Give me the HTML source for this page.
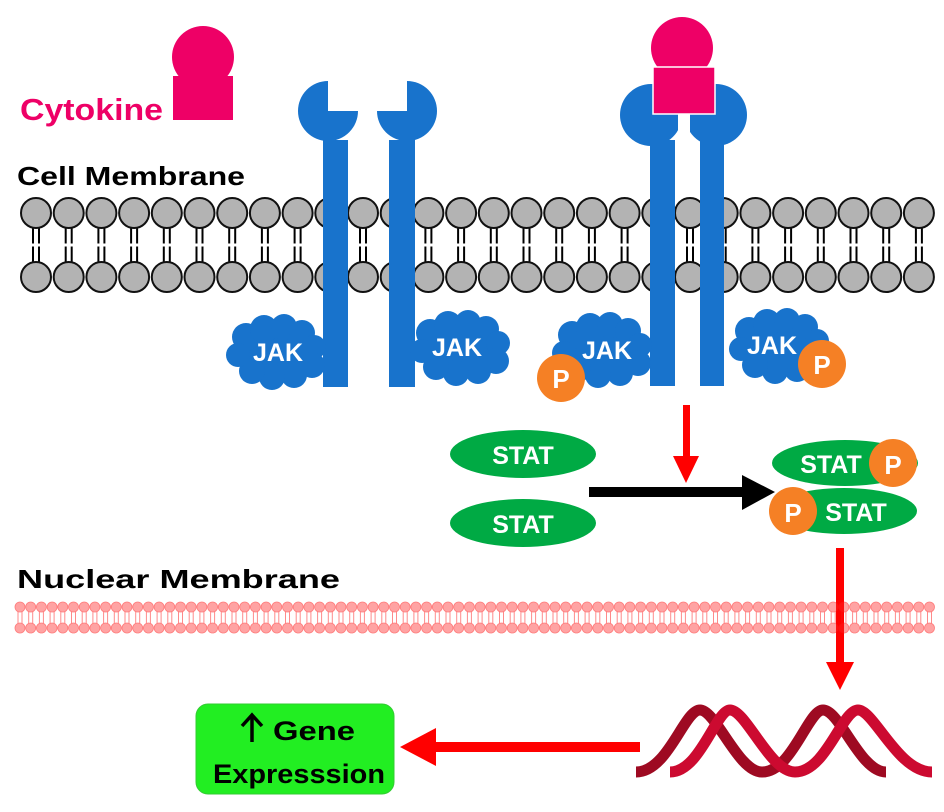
<!DOCTYPE html>
<html><head><meta charset="utf-8"><style>
html,body{margin:0;padding:0;background:#fff;}
svg{display:block;}
text{font-family:"Liberation Sans",sans-serif;font-weight:bold;}
</style></head><body>
<svg width="944" height="812" viewBox="0 0 944 812" xmlns="http://www.w3.org/2000/svg">
<defs>
<g id="lipid">
 <line x1="-3" y1="228" x2="-3" y2="262" stroke="#000" stroke-width="2"/>
 <line x1="3" y1="228" x2="3" y2="262" stroke="#000" stroke-width="2"/>
 <line x1="-6" y1="245" x2="6" y2="245" stroke="#fff" stroke-width="3"/>
 <circle cx="0" cy="213" r="15" fill="#b3b3b3" stroke="#111" stroke-width="2"/>
 <circle cx="0" cy="277" r="15" fill="#b3b3b3" stroke="#111" stroke-width="2"/>
</g>
<g id="nl">
 <line x1="-2" y1="607" x2="-2" y2="628" stroke="#ff8a8a" stroke-width="1"/>
 <line x1="2" y1="607" x2="2" y2="628" stroke="#ff8a8a" stroke-width="1"/>
 <circle cx="0" cy="607" r="5" fill="#ffa3a3" stroke="#ff7b7b" stroke-width="0.8"/>
 <circle cx="0" cy="628" r="5" fill="#ffa3a3" stroke="#ff7b7b" stroke-width="0.8"/>
</g>
<g id="cloud" fill="#1873cc">
 <ellipse cx="0" cy="0" rx="40" ry="27"/>
 <circle cx="-30" cy="-14" r="14"/><circle cx="-12" cy="-22" r="14"/><circle cx="8" cy="-24" r="13"/>
 <circle cx="26" cy="-18" r="13"/><circle cx="38" cy="-4" r="12"/><circle cx="36" cy="14" r="13"/>
 <circle cx="18" cy="24" r="13"/><circle cx="-4" cy="26" r="13"/><circle cx="-24" cy="20" r="13"/>
 <circle cx="-38" cy="4" r="12"/>
</g>
</defs>

<!-- Cytokine left -->
<text x="20" y="120" font-size="31" fill="#ee0066" textLength="143" lengthAdjust="spacingAndGlyphs">Cytokine</text>
<circle cx="203" cy="57" r="31" fill="#ee0066"/>
<rect x="173" y="76" width="60" height="44" fill="#ee0066"/>

<text x="17" y="185" font-size="26" fill="#000" textLength="228" lengthAdjust="spacingAndGlyphs">Cell Membrane</text>

<!-- membrane -->
<g>
 <use href="#lipid" x="36"/><use href="#lipid" x="68.7"/><use href="#lipid" x="101.4"/><use href="#lipid" x="134.1"/>
 <use href="#lipid" x="166.8"/><use href="#lipid" x="199.5"/><use href="#lipid" x="232.2"/><use href="#lipid" x="264.9"/>
 <use href="#lipid" x="297.6"/><use href="#lipid" x="330.3"/><use href="#lipid" x="363"/><use href="#lipid" x="395.7"/>
 <use href="#lipid" x="428.4"/><use href="#lipid" x="461.1"/><use href="#lipid" x="493.8"/><use href="#lipid" x="526.5"/>
 <use href="#lipid" x="559.2"/><use href="#lipid" x="591.9"/><use href="#lipid" x="624.6"/><use href="#lipid" x="657.3"/>
 <use href="#lipid" x="690"/><use href="#lipid" x="722.7"/><use href="#lipid" x="755.4"/><use href="#lipid" x="788.1"/>
 <use href="#lipid" x="820.8"/><use href="#lipid" x="853.5"/><use href="#lipid" x="886.2"/><use href="#lipid" x="918.9"/>
</g>

<!-- receptors left -->
<path d="M328,111 L358,111 A30,30 0 1 1 328,81 Z" fill="#1873cc"/>
<rect x="323" y="140" width="25" height="247" fill="#1873cc"/>
<path d="M407,111 L377,111 A30,30 0 1 0 407,81 Z" fill="#1873cc"/>
<rect x="389" y="140" width="26" height="247" fill="#1873cc"/>

<!-- receptors right -->
<circle cx="651" cy="115" r="31" fill="#1873cc"/>
<circle cx="716" cy="115" r="31" fill="#1873cc"/>
<rect x="678" y="110" width="12" height="40" fill="#fff"/>
<rect x="650" y="140" width="25" height="246" fill="#1873cc"/>
<rect x="700" y="140" width="24" height="246" fill="#1873cc"/>
<circle cx="682" cy="48" r="31" fill="#ee0066"/>
<rect x="653" y="67" width="62" height="47" fill="#ee0066" stroke="#fff" stroke-width="1.5"/>

<!-- JAKs -->
<use href="#cloud" x="276" y="351"/>
<use href="#cloud" x="460" y="347"/>
<use href="#cloud" x="602" y="349"/>
<use href="#cloud" x="779" y="345"/>
<text x="278" y="361" font-size="25" fill="#fff" text-anchor="middle">JAK</text>
<text x="457" y="356" font-size="25" fill="#fff" text-anchor="middle">JAK</text>
<text x="607" y="359" font-size="25" fill="#fff" text-anchor="middle">JAK</text>
<text x="772" y="354" font-size="25" fill="#fff" text-anchor="middle">JAK</text>
<circle cx="561" cy="378" r="24" fill="#f58025"/>
<text x="561" y="388" font-size="26" fill="#fff" text-anchor="middle">P</text>
<circle cx="822" cy="364" r="24" fill="#f58025"/>
<text x="822" y="374" font-size="26" fill="#fff" text-anchor="middle">P</text>

<!-- STATs -->
<ellipse cx="523" cy="454" rx="73" ry="24" fill="#00aa44"/>
<text x="523" y="464" font-size="25" fill="#fff" text-anchor="middle">STAT</text>
<ellipse cx="523" cy="523" rx="73" ry="24" fill="#00aa44"/>
<text x="523" y="533" font-size="25" fill="#fff" text-anchor="middle">STAT</text>

<!-- red arrow 1 -->
<rect x="683" y="405" width="7" height="52" fill="#f00"/>
<polygon points="673,456 699,456 686,483" fill="#f00"/>
<!-- black arrow -->
<rect x="589" y="487" width="156" height="10" fill="#000"/>
<polygon points="742,475 775,492 742,510" fill="#000"/>

<!-- dimer -->
<ellipse cx="845" cy="463" rx="73" ry="23" fill="#00aa44"/>
<text x="831" y="473" font-size="25" fill="#fff" text-anchor="middle" font-weight="normal">STAT</text>
<circle cx="893" cy="463" r="24" fill="#f58025"/>
<text x="893" y="474" font-size="26" fill="#fff" text-anchor="middle" font-weight="normal">P</text>
<ellipse cx="844" cy="511" rx="73" ry="23" fill="#00aa44"/>
<circle cx="793" cy="511" r="24" fill="#f58025"/>
<text x="793" y="522" font-size="26" fill="#fff" text-anchor="middle" font-weight="normal">P</text>
<text x="856" y="521" font-size="25" fill="#fff" text-anchor="middle" font-weight="normal">STAT</text>

<!-- red arrow 2 -->
<rect x="836" y="548" width="8" height="115" fill="#f00"/>
<polygon points="826,662 854,662 840,690" fill="#f00"/>

<!-- nuclear membrane -->
<text x="17" y="588" font-size="26" fill="#000" textLength="323" lengthAdjust="spacingAndGlyphs">Nuclear Membrane</text>
<g>
<use href="#nl" x="20"/><use href="#nl" x="30.7"/><use href="#nl" x="41.4"/><use href="#nl" x="52.1"/><use href="#nl" x="62.8"/><use href="#nl" x="73.5"/><use href="#nl" x="84.2"/><use href="#nl" x="94.9"/><use href="#nl" x="105.6"/><use href="#nl" x="116.3"/><use href="#nl" x="127"/><use href="#nl" x="137.7"/><use href="#nl" x="148.4"/><use href="#nl" x="159.1"/><use href="#nl" x="169.8"/><use href="#nl" x="180.5"/><use href="#nl" x="191.2"/><use href="#nl" x="201.9"/><use href="#nl" x="212.6"/><use href="#nl" x="223.3"/><use href="#nl" x="234"/><use href="#nl" x="244.7"/><use href="#nl" x="255.4"/><use href="#nl" x="266.1"/><use href="#nl" x="276.8"/><use href="#nl" x="287.5"/><use href="#nl" x="298.2"/><use href="#nl" x="308.9"/><use href="#nl" x="319.6"/><use href="#nl" x="330.3"/><use href="#nl" x="341"/><use href="#nl" x="351.7"/><use href="#nl" x="362.4"/><use href="#nl" x="373.1"/><use href="#nl" x="383.8"/><use href="#nl" x="394.5"/><use href="#nl" x="405.2"/><use href="#nl" x="415.9"/><use href="#nl" x="426.6"/><use href="#nl" x="437.3"/><use href="#nl" x="448"/><use href="#nl" x="458.7"/><use href="#nl" x="469.4"/><use href="#nl" x="480.1"/><use href="#nl" x="490.8"/><use href="#nl" x="501.5"/><use href="#nl" x="512.2"/><use href="#nl" x="522.9"/><use href="#nl" x="533.6"/><use href="#nl" x="544.3"/><use href="#nl" x="555"/><use href="#nl" x="565.7"/><use href="#nl" x="576.4"/><use href="#nl" x="587.1"/><use href="#nl" x="597.8"/><use href="#nl" x="608.5"/><use href="#nl" x="619.2"/><use href="#nl" x="629.9"/><use href="#nl" x="640.6"/><use href="#nl" x="651.3"/><use href="#nl" x="662"/><use href="#nl" x="672.7"/><use href="#nl" x="683.4"/><use href="#nl" x="694.1"/><use href="#nl" x="704.8"/><use href="#nl" x="715.5"/><use href="#nl" x="726.2"/><use href="#nl" x="736.9"/><use href="#nl" x="747.6"/><use href="#nl" x="758.3"/><use href="#nl" x="769"/><use href="#nl" x="779.7"/><use href="#nl" x="790.4"/><use href="#nl" x="801.1"/><use href="#nl" x="811.8"/><use href="#nl" x="822.5"/><use href="#nl" x="833.2"/><use href="#nl" x="843.9"/><use href="#nl" x="854.6"/><use href="#nl" x="865.3"/><use href="#nl" x="876"/><use href="#nl" x="886.7"/><use href="#nl" x="897.4"/><use href="#nl" x="908.1"/><use href="#nl" x="918.8"/><use href="#nl" x="929.5"/>
</g>
<rect x="836" y="598" width="8" height="40" fill="#f00" opacity="0.9"/>

<!-- gene expression box -->
<rect x="196" y="704" width="198" height="90" rx="12" fill="#22ee22" stroke="#33cc33" stroke-width="1"/>
<g stroke="#000" stroke-width="3.5" fill="none">
 <line x1="252" y1="742" x2="252" y2="716"/>
 <polyline points="242,726 252,715 262,726"/>
</g>
<text x="273" y="740" font-size="27" fill="#000" textLength="82" lengthAdjust="spacingAndGlyphs">Gene</text>
<text x="299" y="783" font-size="27" fill="#000" text-anchor="middle" textLength="172" lengthAdjust="spacingAndGlyphs">Expresssion</text>

<!-- red arrow 3 -->
<rect x="434" y="742" width="206" height="10" fill="#f00"/>
<polygon points="436,728 400,747 436,766" fill="#f00"/>

<!-- DNA -->
<g fill="none" stroke-width="11" stroke-linecap="butt">
 <path d="M636,772 C668,772 684,710 700,710 C716,710 738,772 762,772 C792,772 808,710 823,710 C840,710 860,772 886,772" stroke="#9e0a22"/>
 <path d="M670,772 C700,772 716,710 730,710 C746,710 770,772 795,772 C826,772 842,710 858,710 C874,710 898,772 932,772" stroke="#cc0a30"/>
</g>
</svg>
</body></html>
